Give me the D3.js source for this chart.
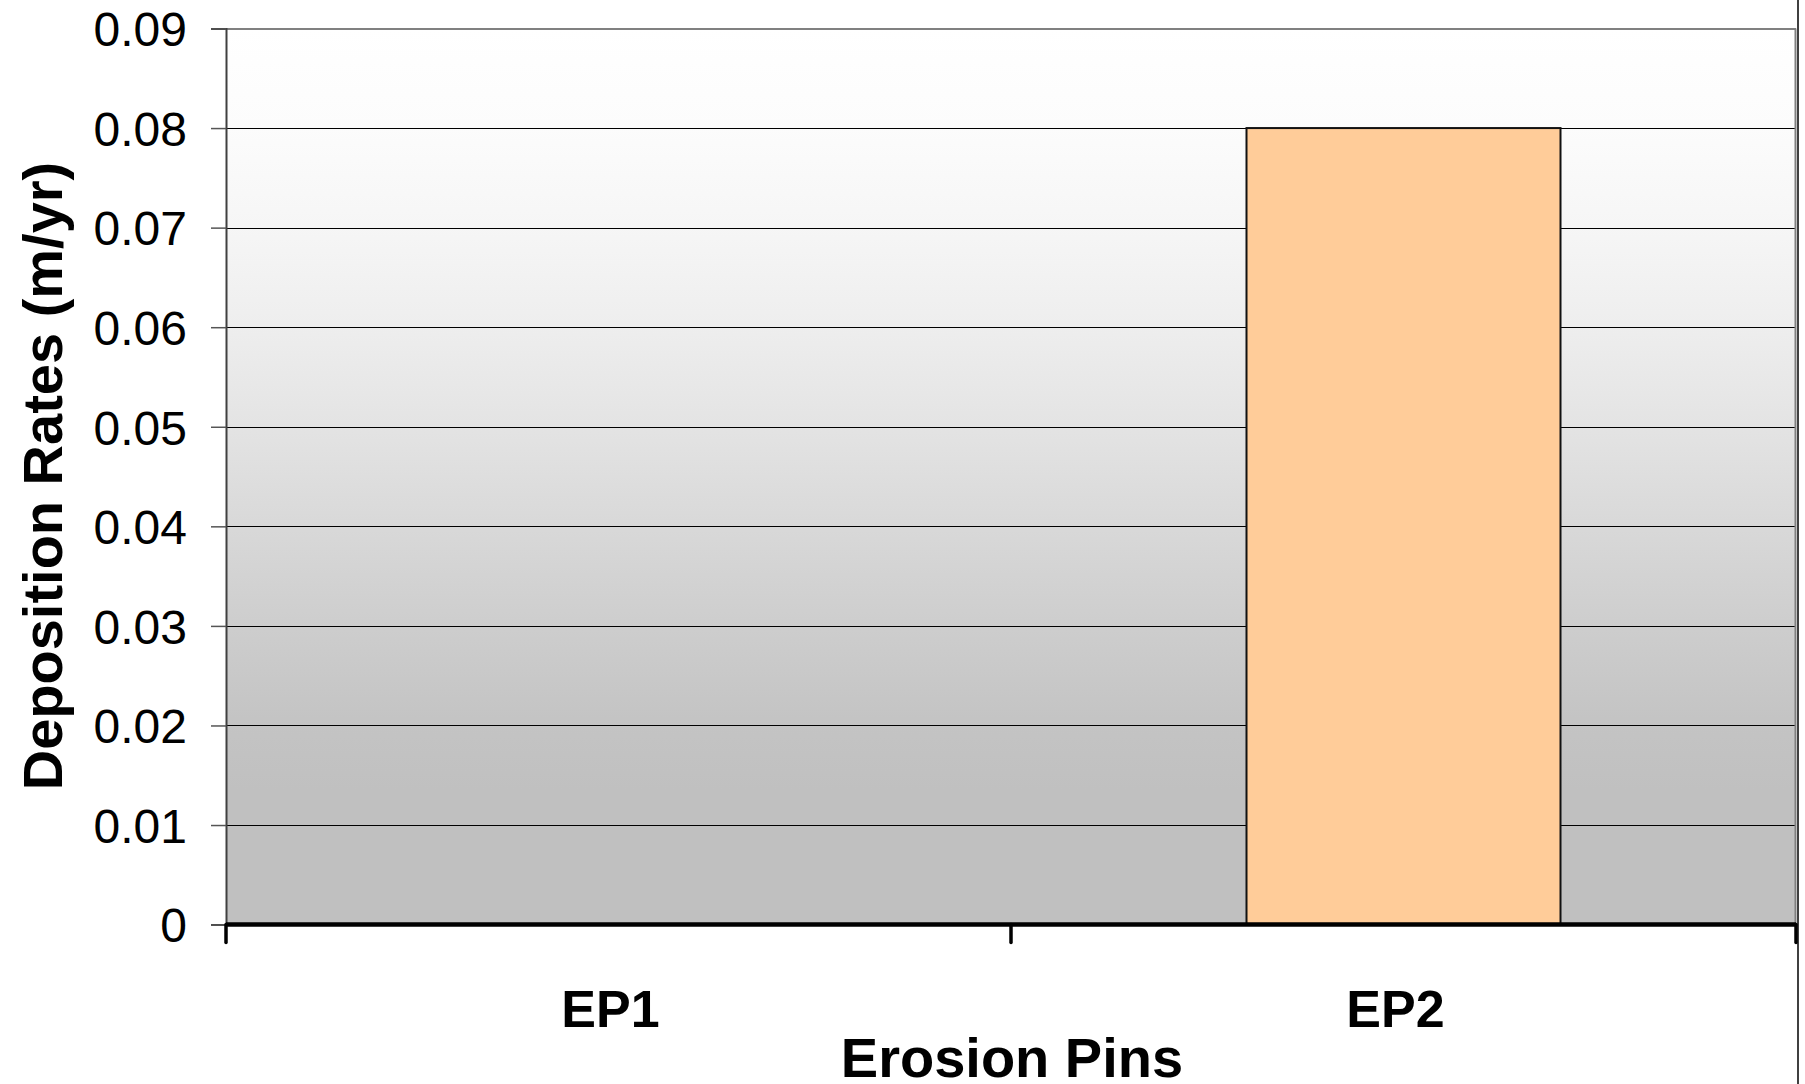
<!DOCTYPE html>
<html>
<head>
<meta charset="utf-8">
<script src="https://cdn.jsdelivr.net/npm/d3@7"></script>
<style>
  html, body { margin: 0; padding: 0; background: #fff; }
  svg { display: block; font-family: Arial, "Liberation Sans", sans-serif; }
</style>
</head>
<body>
<svg id="chart" width="1805" height="1084"></svg>
<script>
const categories = ["EP1", "EP2"];
const depositionRates = [0, 0.08];
const yTickValues = [0, 0.01, 0.02, 0.03, 0.04, 0.05, 0.06, 0.07, 0.08, 0.09];
const yTitle = "Deposition Rates (m/yr)";
const xTitle = "Erosion Pins";

(function () {
const svg = d3.select("#chart");
const pLeft = 226, pRight = 1796, pTop = 28.5, pBottom = 924.6;

const x = d3.scaleBand().domain(categories).range([pLeft, pRight]).paddingInner(0.6).paddingOuter(0.3);
const xOuter = d3.scaleBand().domain(categories).range([pLeft, pRight]);
const y = d3.scaleLinear().domain([0, 0.09]).range([pBottom, pTop]);

// background gradient
const defs = svg.append("defs");
const grad = defs.append("linearGradient").attr("id", "bg").attr("x1", 0).attr("y1", 0).attr("x2", 0).attr("y2", 1);
[[0, "#ffffff"], [0.11, "#fcfcfc"], [0.22, "#f6f6f6"], [0.33, "#eeeeee"], [0.44, "#e4e4e4"],
 [0.55, "#d9d9d9"], [0.66, "#cecece"], [0.77, "#c4c4c4"], [0.85, "#c0c0c0"], [1, "#c0c0c0"]]
  .forEach(([o, c]) => grad.append("stop").attr("offset", o).attr("stop-color", c));

svg.append("rect").attr("x", pLeft).attr("y", pTop).attr("width", pRight - pLeft).attr("height", pBottom - pTop).attr("fill", "url(#bg)");

// gridlines
svg.append("g").selectAll("line").data(yTickValues.filter(v => v > 0 && v < 0.09)).join("line")
  .attr("x1", pLeft).attr("x2", pRight)
  .attr("y1", d => Math.round(y(d)) + 0.5).attr("y2", d => Math.round(y(d)) + 0.5)
  .attr("stroke", "#000").attr("stroke-width", 1);

// plot border top/right
svg.append("line").attr("x1", pLeft).attr("x2", pRight).attr("y1", pTop + 0.5).attr("y2", pTop + 0.5).attr("stroke", "#808080").attr("stroke-width", 2);
svg.append("line").attr("x1", pRight - 0.5).attr("x2", pRight - 0.5).attr("y1", pTop).attr("y2", pBottom).attr("stroke", "#808080").attr("stroke-width", 2);

// bars
svg.append("g").selectAll("rect").data(categories).join("rect")
  .attr("x", d => x(d))
  .attr("y", (d, i) => y(depositionRates[i]))
  .attr("width", x.bandwidth())
  .attr("height", (d, i) => y(0) - y(depositionRates[i]))
  .attr("fill", "#ffcc99")
  .attr("stroke", "#111")
  .attr("stroke-width", 2)
  .style("display", (d, i) => depositionRates[i] > 0 ? null : "none");

// y axis
const yAxis = d3.axisLeft(y).tickValues(yTickValues).tickSize(15).tickPadding(24).tickFormat(d => d === 0 ? "0" : d3.format(".2f")(d));
const gy = svg.append("g").attr("transform", `translate(${pLeft},0)`).call(yAxis);
gy.select(".domain").attr("stroke", "#404040").attr("stroke-width", 2);
gy.selectAll(".tick line").attr("stroke", "#555").attr("stroke-width", 1.5);
gy.selectAll(".tick text").attr("font-size", 48).attr("fill", "#000").attr("font-family", "Arial, 'Liberation Sans', sans-serif").attr("dy", "0.36em");

// x axis
const xAxis = d3.axisBottom(xOuter).tickSize(0).tickFormat(() => "");
const gx = svg.append("g").attr("transform", `translate(0,${pBottom})`).call(xAxis);
gx.select(".domain").remove();
gx.append("line").attr("x1", pLeft).attr("x2", pRight).attr("y1", 0).attr("y2", 0).attr("stroke", "#000").attr("stroke-width", 4.5);
const boundaries = [pLeft, ...categories.map(c => xOuter(c) + xOuter.bandwidth())];
gx.selectAll(".bnd").data(boundaries).join("line").attr("class", "bnd")
  .attr("x1", d => d).attr("x2", d => d).attr("y1", 0).attr("y2", 18)
  .attr("stroke", "#000").attr("stroke-width", 3.5).attr("stroke-linecap", "round");

// category labels
svg.append("g").selectAll("text").data(categories).join("text")
  .attr("x", d => xOuter(d) + xOuter.bandwidth() / 2 - 8)
  .attr("y", 1027)
  .attr("text-anchor", "middle")
  .attr("font-size", 52).attr("font-weight", "bold").attr("fill", "#000")
  .text(d => d);

// axis titles
svg.append("text").attr("x", 1012).attr("y", 1077).attr("text-anchor", "middle")
  .attr("font-size", 56).attr("font-weight", "bold").attr("fill", "#000").text(xTitle);
svg.append("text").attr("transform", "translate(62,476) rotate(-90)").attr("text-anchor", "middle")
  .attr("font-size", 56).attr("font-weight", "bold").attr("fill", "#000").text(yTitle);

// right frame line
svg.append("line").attr("x1", 1798).attr("x2", 1798).attr("y1", 0).attr("y2", 1084).attr("stroke", "#000").attr("stroke-width", 1.5);
})();
</script>
</body>
</html>
